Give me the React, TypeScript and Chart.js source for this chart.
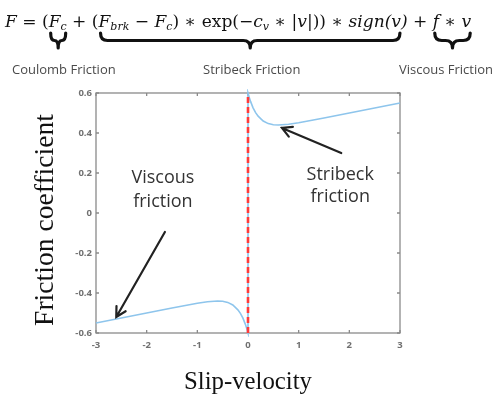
import { useEffect, useRef } from "react";
import { Chart, registerables } from "chart.js";

Chart.register(...registerables);

// Friction curve: slip velocity vs. friction coefficient
const velocity = [
  -3, -2.5, -2, -1.5, -1, -0.8, -0.6, -0.5, -0.4, -0.3, -0.2, -0.15, -0.1, -0.05, -0.025, 0,
  0, 0.025, 0.05, 0.1, 0.15, 0.2, 0.3, 0.4, 0.5, 0.6, 0.8, 1, 1.5, 2, 2.5, 3,
];
const friction = [
  -0.55, -0.525, -0.5, -0.475, -0.451, -0.444, -0.44, -0.441, -0.447, -0.46, -0.484, -0.502, -0.526, -0.558, -0.578, -0.6,
  0.6, 0.578, 0.558, 0.526, 0.502, 0.484, 0.46, 0.447, 0.441, 0.44, 0.444, 0.451, 0.475, 0.5, 0.525, 0.55,
];

// Dashed marker at zero slip velocity
const zeroLineX = [0, 0];
const zeroLineY = [-0.6, 0.6];

const xTicks = [-3, -2, -1, 0, 1, 2, 3];
const yTicks = [-0.6, -0.4, -0.2, 0, 0.2, 0.4, 0.6];

const xTitle = "Slip-velocity";
const yTitle = "Friction coefficient";

// Callouts inside the plot (data units)
const noteLines = [
  ["Viscous", "friction"],
  ["Stribeck", "friction"],
];
const noteX = [-1.68, 1.82];
const noteY = [
  [0.175, 0.055],
  [0.19, 0.08],
];
const arrowFrom = [
  [-1.64, -0.095],
  [1.84, 0.3],
];
const arrowTo = [
  [-2.6, -0.52],
  [0.67, 0.425],
];

// Equation above the plot: [text, style, group]
type Part = [string, "n" | "i" | "s", string?];
const formula: Part[] = [
  ["F", "i"],
  [" = (", "n"],
  ["F", "i", "c"],
  ["c", "s", "c"],
  [" + ", "n"],
  ["(", "n"],
  ["F", "i", "s"],
  ["brk", "s", "s"],
  [" − ", "n", "s"],
  ["F", "i", "s"],
  ["c", "s", "s"],
  [") ∗ exp(−", "n", "s"],
  ["c", "i", "s"],
  ["v", "s", "s"],
  [" ∗ |", "n", "s"],
  ["v", "i", "s"],
  ["|)) ∗ ", "n", "s"],
  ["sign(v", "i", "s"],
  [")", "i"],
  [" + ", "n"],
  ["f", "i", "v"],
  [" ∗ ", "n", "v"],
  ["v", "i", "v"],
];
const braceGroups = ["c", "s", "v"];
const braceLabels = ["Coulomb Friction", "Stribeck Friction", "Viscous Friction"];

const SERIF = '"Liberation Serif", "DejaVu Serif", serif';
const MATH = '"DejaVu Serif", serif';
const SANS = '"Open Sans", "Noto Sans", sans-serif';

function partFont(style: string, size: number) {
  if (style === "i") return `italic ${size}px ${MATH}`;
  if (style === "s") return `italic ${Math.round(size * 0.66)}px ${MATH}`;
  return `${size}px ${MATH}`;
}

function drawBrace(ctx: CanvasRenderingContext2D, x1: number, x2: number, y0: number) {
  const cx = (x1 + x2) / 2;
  const h = 7.5;
  const r = Math.min(7, (cx - x1) / 2);
  ctx.beginPath();
  ctx.moveTo(x1, y0);
  ctx.quadraticCurveTo(x1, y0 + h, x1 + r, y0 + h);
  ctx.lineTo(cx - r, y0 + h);
  ctx.quadraticCurveTo(cx, y0 + h, cx, y0 + 2 * h);
  ctx.quadraticCurveTo(cx, y0 + h, cx + r, y0 + h);
  ctx.lineTo(x2 - r, y0 + h);
  ctx.quadraticCurveTo(x2, y0 + h, x2, y0);
  ctx.stroke();
}

function fitFont(ctx: CanvasRenderingContext2D, text: string, family: string, width: number) {
  ctx.font = `100px ${family}`;
  return (100 * width) / ctx.measureText(text).width;
}

const framePlugin = {
  id: "frame",
  beforeDatasetsDraw(chart: any) {
    const { ctx, chartArea, scales } = chart;
    const { left, right, top, bottom } = chartArea;
    ctx.save();
    ctx.strokeStyle = "#8a8a8a";
    ctx.lineWidth = 1.3;
    ctx.strokeRect(left, top, right - left, bottom - top);
    ctx.beginPath();
    for (const t of xTicks) {
      const px = scales.x.getPixelForValue(t);
      ctx.moveTo(px, bottom);
      ctx.lineTo(px, bottom - 3);
      ctx.moveTo(px, top);
      ctx.lineTo(px, top + 3);
    }
    for (const t of yTicks) {
      const py = scales.y.getPixelForValue(t);
      ctx.moveTo(left, py);
      ctx.lineTo(left + 3, py);
      ctx.moveTo(right, py);
      ctx.lineTo(right - 3, py);
    }
    ctx.stroke();
    ctx.restore();
  },
  afterDatasetsDraw(chart: any) {
    const { ctx, scales, chartArea } = chart;
    const X = (v: number) => scales.x.getPixelForValue(v);
    const Y = (v: number) => scales.y.getPixelForValue(v);
    ctx.save();

    // callout text
    ctx.fillStyle = "#333";
    ctx.font = `18px ${SANS}`;
    ctx.textAlign = "center";
    ctx.textBaseline = "middle";
    noteLines.forEach((lines, i) => {
      lines.forEach((line, j) => ctx.fillText(line, X(noteX[i]), Y(noteY[i][j])));
    });

    // arrows
    ctx.strokeStyle = "#222";
    ctx.lineWidth = 2.2;
    ctx.lineCap = "round";
    arrowFrom.forEach((from, i) => {
      const x0 = X(from[0]);
      const y0 = Y(from[1]);
      const x1 = X(arrowTo[i][0]);
      const y1 = Y(arrowTo[i][1]);
      const a = Math.atan2(y1 - y0, x1 - x0);
      const L = 11;
      const s = 0.5;
      ctx.beginPath();
      ctx.moveTo(x0, y0);
      ctx.lineTo(x1, y1);
      ctx.moveTo(x1 - L * Math.cos(a - s), y1 - L * Math.sin(a - s));
      ctx.lineTo(x1, y1);
      ctx.lineTo(x1 - L * Math.cos(a + s), y1 - L * Math.sin(a + s));
      ctx.stroke();
    });

    // axis titles
    ctx.fillStyle = "#111";
    const xs = fitFont(ctx, xTitle, SERIF, 128);
    ctx.font = `${xs}px ${SERIF}`;
    ctx.textBaseline = "alphabetic";
    ctx.fillText(xTitle, (chartArea.left + chartArea.right) / 2, 389);
    const ys = fitFont(ctx, yTitle, SERIF, 212);
    ctx.font = `${ys}px ${SERIF}`;
    ctx.translate(53, 220);
    ctx.rotate(-Math.PI / 2);
    ctx.fillText(yTitle, 0, 0);
    ctx.restore();

    // equation
    ctx.save();
    ctx.fillStyle = "#111";
    ctx.textBaseline = "alphabetic";
    ctx.textAlign = "left";
    const base = 20;
    let total = 0;
    for (const [t, st] of formula) {
      ctx.font = partFont(st, base);
      total += ctx.measureText(t).width;
    }
    const size = (base * 467) / total;
    let cx = 5;
    const spans: Record<string, [number, number]> = {};
    for (const [t, st, g] of formula) {
      ctx.font = partFont(st, size);
      const w = ctx.measureText(t).width;
      ctx.fillText(t, cx, st === "s" ? 30 : 27);
      if (g) {
        const sp = spans[g];
        spans[g] = sp ? [Math.min(sp[0], cx), Math.max(sp[1], cx + w)] : [cx, cx + w];
      }
      cx += w;
    }

    // braces and labels
    ctx.strokeStyle = "#111";
    ctx.lineWidth = 3.2;
    ctx.lineCap = "round";
    ctx.lineJoin = "round";
    ctx.font = `13px ${SANS}`;
    ctx.textBaseline = "middle";
    braceGroups.forEach((g, i) => {
      const [a, b] = spans[g];
      drawBrace(ctx, a + 2, b - 1, 33);
      ctx.fillStyle = "#4a4a4a";
      const label = braceLabels[i];
      const w = ctx.measureText(label).width;
      let c = (a + b) / 2 + 2;
      if (c + w / 2 > 493) c = 493 - w / 2;
      if (c - w / 2 < 12) c = 12 + w / 2;
      ctx.textAlign = "center";
      ctx.fillText(label, c, 70);
    });
    ctx.restore();
  },
};

export default function App() {
  const ref = useRef<HTMLCanvasElement | null>(null);

  useEffect(() => {
    if (!ref.current) return;
    const chart = new Chart(ref.current, {
      type: "scatter",
      data: {
        datasets: [
          {
            data: velocity.map((v, i) => ({ x: v, y: friction[i] })),
            showLine: true,
            borderColor: "#8ec5ec",
            borderWidth: 1.6,
            pointRadius: 0,
            tension: 0,
            clip: 4,
            order: 2,
          },
          {
            data: zeroLineX.map((v, i) => ({ x: v, y: zeroLineY[i] })),
            showLine: true,
            borderColor: "#ff3a3a",
            borderWidth: 2.6,
            borderDash: [6, 4],
            pointRadius: 0,
            clip: 4,
            order: 1,
          },
        ],
      },
      options: {
        responsive: false,
        animation: false,
        devicePixelRatio: 1,
        layout: { padding: { left: 56, right: 96, top: 93, bottom: 32 } },
        plugins: { legend: { display: false }, tooltip: { enabled: false } },
        scales: {
          x: {
            type: "linear",
            min: -3,
            max: 3,
            afterFit: (s: any) => {
              s.height = 30;
            },
            grid: { display: false, drawTicks: false },
            border: { display: false },
            ticks: {
              stepSize: 1,
              padding: 7,
              color: "#707070",
              font: { family: SANS, size: 9.5, weight: "bold" },
              callback: (v: any) => String(Number(Number(v).toFixed(1))),
            },
          },
          y: {
            type: "linear",
            min: -0.6,
            max: 0.6,
            afterFit: (s: any) => {
              s.width = 40;
            },
            grid: { display: false, drawTicks: false },
            border: { display: false },
            ticks: {
              stepSize: 0.2,
              padding: 4,
              color: "#707070",
              font: { family: SANS, size: 9.5, weight: "bold" },
              callback: (v: any) => String(Number(Number(v).toFixed(1))),
            },
          },
        },
      },
      plugins: [framePlugin],
    });
    return () => chart.destroy();
  }, []);

  return (
    <div style={{ position: "absolute", left: 0, top: 0, width: 496, height: 395, background: "#fff" }}>
      <canvas ref={ref} width={496} height={395} />
    </div>
  );
}
